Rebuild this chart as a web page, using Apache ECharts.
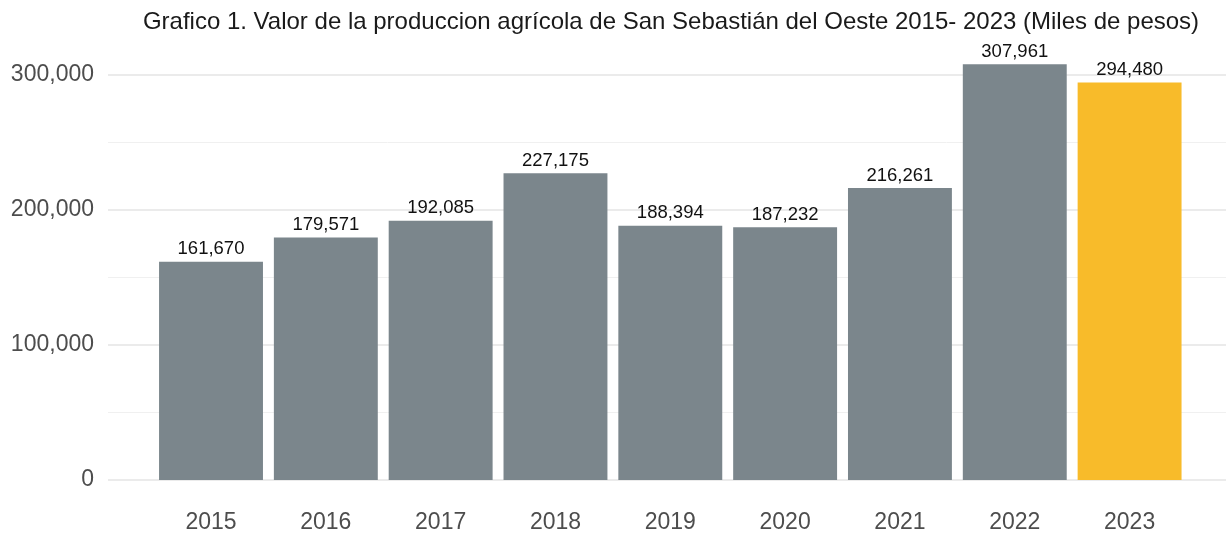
<!DOCTYPE html>
<html>
<head>
<meta charset="utf-8">
<script src="https://cdn.jsdelivr.net/npm/echarts@6/dist/echarts.min.js"></script>
<style>
  html, body { margin: 0; padding: 0; background: #fff; }
  #main { width: 1226px; height: 536px; }
</style>
</head>
<body>
<div id="main"></div>
<script>
// datos
var years = ['2015', '2016', '2017', '2018', '2019', '2020', '2021', '2022', '2023'];
var valores = [161670, 179571, 192085, 227175, 188394, 187232, 216261, 307961, 294480];
var yTicks = [0, 100000, 200000, 300000];

var fmt = function (v) {
	return v.toLocaleString('en-US');
};

var myChart = echarts.init(document.getElementById('main'));

var yMax = 330000;

myChart.setOption({
	animation: false,
	title: {
		text: 'Grafico 1. Valor de la produccion agrícola de San Sebastián del Oeste 2015- 2023 (Miles de pesos)',
		left: 666,
		textAlign: 'center',
		top: 5,
		textStyle: {
			fontFamily: 'Liberation Sans',
			fontWeight: 'normal',
			fontSize: 24,
			color: '#1a1a1a'
		}
	},
	grid: [
		// fondo con lineas
		{ left: 108, right: 0, top: 34.5, bottom: 56 },
		// barras
		{ left: 153.6, right: 39, top: 34.5, bottom: 56 }
	],
	xAxis: [
		{ gridIndex: 0, type: 'category', data: years, show: false },
		{
			gridIndex: 1,
			type: 'category',
			data: years,
			axisLine: { show: false },
			axisTick: { show: false },
			axisLabel: {
				fontFamily: 'Liberation Sans',
				fontSize: 23,
				color: '#4d4d4d',
				margin: 31
			}
		}
	],
	yAxis: [
		{
			// lineas menores
			gridIndex: 0,
			type: 'value',
			position: 'left',
			min: 0,
			max: yMax,
			interval: 50000,
			axisLabel: { show: false },
			axisLine: { show: false },
			axisTick: { show: false },
			splitLine: { show: true, showMaxLine: false, lineStyle: { color: '#f0f0f0', width: 1 } }
		},
		{
			// lineas mayores + etiquetas
			gridIndex: 0,
			type: 'value',
			position: 'left',
			min: 0,
			max: yMax,
			interval: 100000,
			axisLine: { show: false },
			axisTick: { show: false },
			axisLabel: {
				showMaxLabel: false,
				fontFamily: 'Liberation Sans',
				fontSize: 23,
				color: '#4d4d4d',
				margin: 14,
				formatter: function (v) {
					return yTicks.indexOf(v) >= 0 ? fmt(v) : '';
				}
			},
			splitLine: { show: true, showMaxLine: false, lineStyle: { color: '#ebebeb', width: 2 } }
		},
		{
			gridIndex: 1,
			type: 'value',
			min: 0,
			max: yMax,
			show: false,
			splitLine: { show: false }
		}
	],
	series: [
		{
			type: 'bar',
			xAxisIndex: 1,
			yAxisIndex: 2,
			barCategoryGap: '9.5%',
			data: valores.map(function (v, i) {
				return {
					value: v,
					itemStyle: { color: i === valores.length - 1 ? '#f8bb2a' : '#7b868c' }
				};
			}),
			label: {
				show: true,
				position: 'top',
				distance: 3,
				fontFamily: 'Liberation Sans',
				fontSize: 18.5,
				color: '#111',
				formatter: function (p) {
					return fmt(p.value);
				}
			}
		}
	]
});
</script>
</body>
</html>
